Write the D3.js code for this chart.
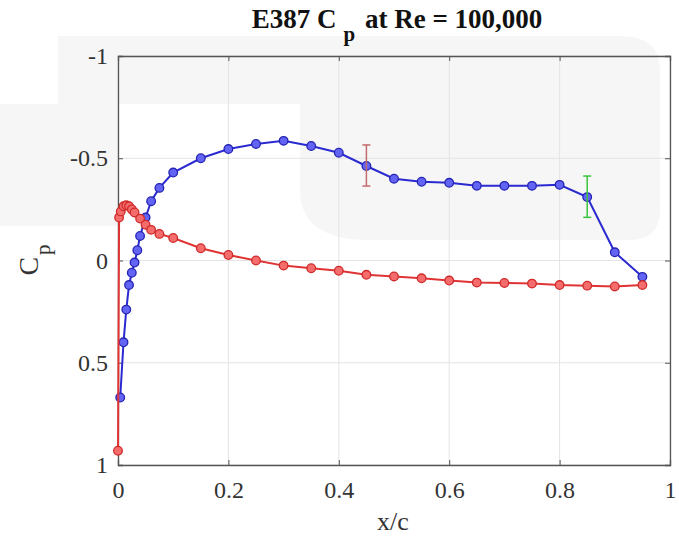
<!DOCTYPE html>
<html>
<head>
<meta charset="utf-8">
<script src="https://cdn.jsdelivr.net/npm/d3@7"></script>
<style>
  body { margin: 0; background: #fff; }
  text { font-family: "Liberation Serif", "DejaVu Serif", serif; }
</style>
</head>
<body>
<div class="chart"></div>
<script>
var W = 679, H = 541;
var MARGIN = {left: 118, top: 56, right: 9, bottom: 76};

// upper surface (blue)
var upperX = [0.004, 0.01, 0.015, 0.02, 0.025, 0.03, 0.035, 0.04, 0.05, 0.06, 0.075, 0.1, 0.15, 0.2, 0.25, 0.3, 0.35, 0.4, 0.45, 0.5, 0.55, 0.6, 0.65, 0.7, 0.75, 0.8, 0.85, 0.9, 0.95];
var upperCp = [0.67, 0.40, 0.24, 0.12, 0.06, 0.01, -0.05, -0.12, -0.21, -0.29, -0.355, -0.43, -0.50, -0.545, -0.57, -0.585, -0.56, -0.527, -0.462, -0.40, -0.385, -0.38, -0.365, -0.365, -0.365, -0.37, -0.31, -0.04, 0.08];

// lower surface (red)
var lowerX = [0, 0.002, 0.005, 0.01, 0.015, 0.02, 0.025, 0.03, 0.04, 0.05, 0.06, 0.075, 0.1, 0.15, 0.2, 0.25, 0.3, 0.35, 0.4, 0.45, 0.5, 0.55, 0.6, 0.65, 0.7, 0.75, 0.8, 0.85, 0.9, 0.95];
var lowerCp = [0.93, -0.21, -0.24, -0.265, -0.27, -0.265, -0.25, -0.235, -0.205, -0.175, -0.15, -0.13, -0.11, -0.06, -0.027, 0, 0.025, 0.038, 0.05, 0.07, 0.078, 0.087, 0.098, 0.108, 0.11, 0.113, 0.12, 0.123, 0.127, 0.12];

// error bars
var errX = [0.45, 0.85];
var errLow = [-0.565, -0.413];
var errHigh = [-0.364, -0.211];
var errColours = ['#c46a6a', '#3cc43c'];

var xTicks = [0, 0.2, 0.4, 0.6, 0.8, 1];
var yTicks = [-1, -0.5, 0, 0.5, 1];

var plotW = W - MARGIN.left - MARGIN.right;
var plotH = H - MARGIN.top - MARGIN.bottom;

var svg = d3.select('.chart').append('svg')
    .attr('width', W)
    .attr('height', H);

// faint watermark in the background
var wm = svg.append('g').attr('fill', '#f6f6f6');
wm.append('path').attr('d', 'M58,36 H620 Q660,36 660,70 V104 H58 Z');
wm.append('rect').attr('x', 0).attr('y', 104).attr('width', 118).attr('height', 122);
wm.append('path').attr('d', 'M300,104 H660 V210 Q660,240 630,240 H370 Q300,240 300,190 Z');

var x = d3.scaleLinear().domain([0, 1]).range([0, plotW]);
var y = d3.scaleLinear().domain([-1, 1]).range([0, plotH]);

var g = svg.append('g')
    .attr('transform', 'translate(' + MARGIN.left + ',' + MARGIN.top + ')');

// grid
g.selectAll('.gx').data(xTicks).enter().append('line')
    .attr('x1', d => x(d)).attr('x2', d => x(d))
    .attr('y1', 0).attr('y2', plotH)
    .attr('stroke', '#e4e4e4').attr('stroke-width', 1);
g.selectAll('.gy').data(yTicks).enter().append('line')
    .attr('x1', 0).attr('x2', plotW)
    .attr('y1', d => y(d)).attr('y2', d => y(d))
    .attr('stroke', '#e4e4e4').attr('stroke-width', 1);

// axes (box style, ticks inside)
var fmt = d => String(d);
g.append('g').attr('transform', 'translate(0,' + plotH + ')')
    .call(d3.axisBottom(x).tickValues(xTicks).tickSize(-5).tickPadding(16).tickFormat(fmt));
g.append('g')
    .call(d3.axisLeft(y).tickValues(yTicks).tickSize(-5).tickPadding(10).tickFormat(fmt));
g.append('g').call(d3.axisTop(x).tickValues(xTicks).tickSize(-5).tickFormat(''));
g.append('g').attr('transform', 'translate(' + plotW + ',0)')
    .call(d3.axisRight(y).tickValues(yTicks).tickSize(-5).tickFormat(''));

g.selectAll('.domain').attr('stroke', '#555').attr('stroke-width', 1.3);
g.selectAll('.tick line').attr('stroke', '#555');
g.selectAll('.tick text')
    .style('font-family', '"Liberation Serif", serif')
    .attr('font-size', 24)
    .attr('fill', '#333');

var line = d3.line().x(d => x(d[0])).y(d => y(d[1]));

function drawSeries(xs, cps, lineCol, fillCol, strokeCol) {
    var pts = xs.map((v, i) => [v, cps[i]]);
    g.append('path')
        .datum(pts)
        .attr('d', line)
        .attr('fill', 'none')
        .attr('stroke', lineCol)
        .attr('stroke-width', 2);
    g.append('g').selectAll('circle')
        .data(pts)
        .enter().append('circle')
        .attr('cx', d => x(d[0]))
        .attr('cy', d => y(d[1]))
        .attr('r', 4.3)
        .attr('fill', fillCol)
        .attr('stroke', strokeCol)
        .attr('stroke-width', 1.3);
}

drawSeries(upperX, upperCp, '#2a2ad0', '#6464f4', '#2424b4');
drawSeries(lowerX, lowerCp, '#e03434', '#f46c6c', '#d02a2a');

// error bars
var eb = g.append('g').selectAll('g')
    .data(errX.map((v, i) => ({x: v, lo: errLow[i], hi: errHigh[i], c: errColours[i]})))
    .enter().append('g')
    .attr('stroke', d => d.c)
    .attr('stroke-width', 1.5);
eb.append('line')
    .attr('x1', d => x(d.x)).attr('x2', d => x(d.x))
    .attr('y1', d => y(d.lo)).attr('y2', d => y(d.hi));
eb.append('line')
    .attr('x1', d => x(d.x) - 4).attr('x2', d => x(d.x) + 4)
    .attr('y1', d => y(d.lo)).attr('y2', d => y(d.lo));
eb.append('line')
    .attr('x1', d => x(d.x) - 4).attr('x2', d => x(d.x) + 4)
    .attr('y1', d => y(d.hi)).attr('y2', d => y(d.hi));

// title
var title = svg.append('text')
    .attr('x', 397)
    .attr('y', 28)
    .attr('text-anchor', 'middle')
    .attr('font-size', 27)
    .attr('font-weight', 'bold')
    .attr('fill', '#111');
title.append('tspan').text('E387 C');
title.append('tspan').attr('dx', 7).attr('dy', 13).attr('font-size', 21).text('p');
title.append('tspan').attr('dx', 3).attr('dy', -13).text(' at Re = 100,000');

// x label
svg.append('text')
    .attr('x', 393)
    .attr('y', 530)
    .attr('text-anchor', 'middle')
    .attr('font-size', 26)
    .attr('fill', '#333')
    .text('x/c');

// y label
var yl = svg.append('text')
    .attr('transform', 'translate(38,' + 260 + ')rotate(-90)')
    .attr('text-anchor', 'middle')
    .attr('font-size', 28)
    .attr('fill', '#333');
yl.append('tspan').text('C');
yl.append('tspan').attr('dx', 2).attr('dy', 12).attr('font-size', 21).text('p');
</script>
</body>
</html>
